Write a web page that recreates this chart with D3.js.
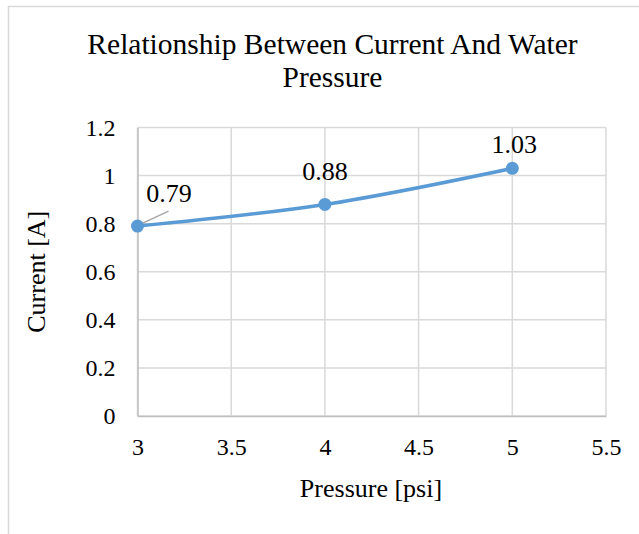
<!DOCTYPE html>
<html><head><meta charset="utf-8">
<script src="https://cdn.jsdelivr.net/npm/d3@7"></script>
<style>body{margin:0;background:#fff}svg{display:block}svg text{font-family:"Liberation Serif","Times New Roman",serif}</style>
</head><body>
<script>
const pressure = [3, 4, 5];
const current = [0.79, 0.88, 1.03];
const xTicks = [3, 3.5, 4, 4.5, 5, 5.5];
const yTicks = [0, 0.2, 0.4, 0.6, 0.8, 1, 1.2];
const titleLines = ["Relationship Between Current And Water", "Pressure"];
const xTitle = "Pressure [psi]";
const yTitle = "Current [A]";

const W = 639, H = 534;
const svg = d3.select("body").append("svg").attr("width", W).attr("height", H);
svg.append("rect").attr("x", 8.5).attr("y", 6.5).attr("width", W + 10).attr("height", H + 10)
  .attr("fill", "#fff").attr("stroke", "#d9d9d9").attr("stroke-width", 1.5);

const x = d3.scaleLinear().domain([3, 5.5]).range([137.5, 606]);
const y = d3.scaleLinear().domain([0, 1.2]).range([416, 127.5]);

// title
svg.append("text").style("font-size", "29.5px").attr("fill", "#000")
  .attr("text-anchor", "middle")
  .selectAll("tspan").data(titleLines).join("tspan")
  .attr("x", 332.5).attr("y", (d, i) => 54 + i * 33).text(d => d);

// gridlines
const g = svg.append("g");
g.selectAll(".vx").data(xTicks).join("line")
  .attr("x1", d => x(d)).attr("x2", d => x(d)).attr("y1", y(1.2)).attr("y2", y(0))
  .attr("stroke", "#d9d9d9").attr("stroke-width", 1.5);
g.selectAll(".hy").data(yTicks).join("line")
  .attr("x1", x(3)).attr("x2", x(5.5)).attr("y1", d => y(d)).attr("y2", d => y(d))
  .attr("stroke", "#d9d9d9").attr("stroke-width", 1.5);

// axes via d3
const xAxis = svg.append("g").attr("transform", `translate(0,${y(0)})`)
  .call(d3.axisBottom(x).tickValues(xTicks).tickSize(0).tickPadding(22).tickFormat(d3.format("")));
xAxis.attr("font-family", null).attr("font-size", null);
xAxis.select(".domain").attr("stroke", "#bfbfbf").attr("stroke-width", 1.5);
xAxis.selectAll("text").style("font-size", "24px").attr("fill", "#000");

const yAxis = svg.append("g").attr("transform", `translate(${x(3)},0)`)
  .call(d3.axisLeft(y).tickValues(yTicks).tickSize(0).tickPadding(22).tickFormat(d3.format("")));
yAxis.attr("font-family", null).attr("font-size", null);
yAxis.select(".domain").attr("stroke", "#bfbfbf").attr("stroke-width", 1.5);
yAxis.selectAll("text").style("font-size", "24px").attr("fill", "#000");

// axis titles
svg.append("text").attr("x", 371).attr("y", 497).attr("text-anchor", "middle")
  .style("font-size", "26px").text(xTitle);
svg.append("text").attr("transform", `translate(45,${y(0.6)}) rotate(-90)`).attr("text-anchor", "middle")
  .style("font-size", "26px").text(yTitle);

const data = pressure.map((p, i) => ({p, c: current[i]}));
const line = d3.line().x(d => x(d.p)).y(d => y(d.c)).curve(d3.curveCatmullRom.alpha(0.5));
svg.append("path").datum(data).attr("d", line).attr("fill", "none")
  .attr("stroke", "#5b9bd5").attr("stroke-width", 3.5).attr("stroke-linecap", "round");

// leader line for first label
svg.append("line").attr("x1", x(3) + 1).attr("y1", y(current[0]) - 1).attr("x2", x(3) + 31).attr("y2", y(current[0]) - 15)
  .attr("stroke", "#a6a6a6").attr("stroke-width", 1.5);

svg.selectAll(".pt").data(data).join("circle")
  .attr("cx", d => x(d.p)).attr("cy", d => y(d.c)).attr("r", 6.5).attr("fill", "#5b9bd5");

const labelOff = [{dx: 31.5, dy: -24}, {dx: 0, dy: -24.5}, {dx: 2, dy: -15}];
svg.selectAll(".lbl").data(data).join("text")
  .attr("x", (d, i) => x(d.p) + labelOff[i].dx).attr("y", (d, i) => y(d.c) + labelOff[i].dy)
  .attr("text-anchor", "middle").style("font-size", "26px").attr("fill", "#000")
  .text(d => d3.format(".2f")(d.c));
</script>
</body></html>
